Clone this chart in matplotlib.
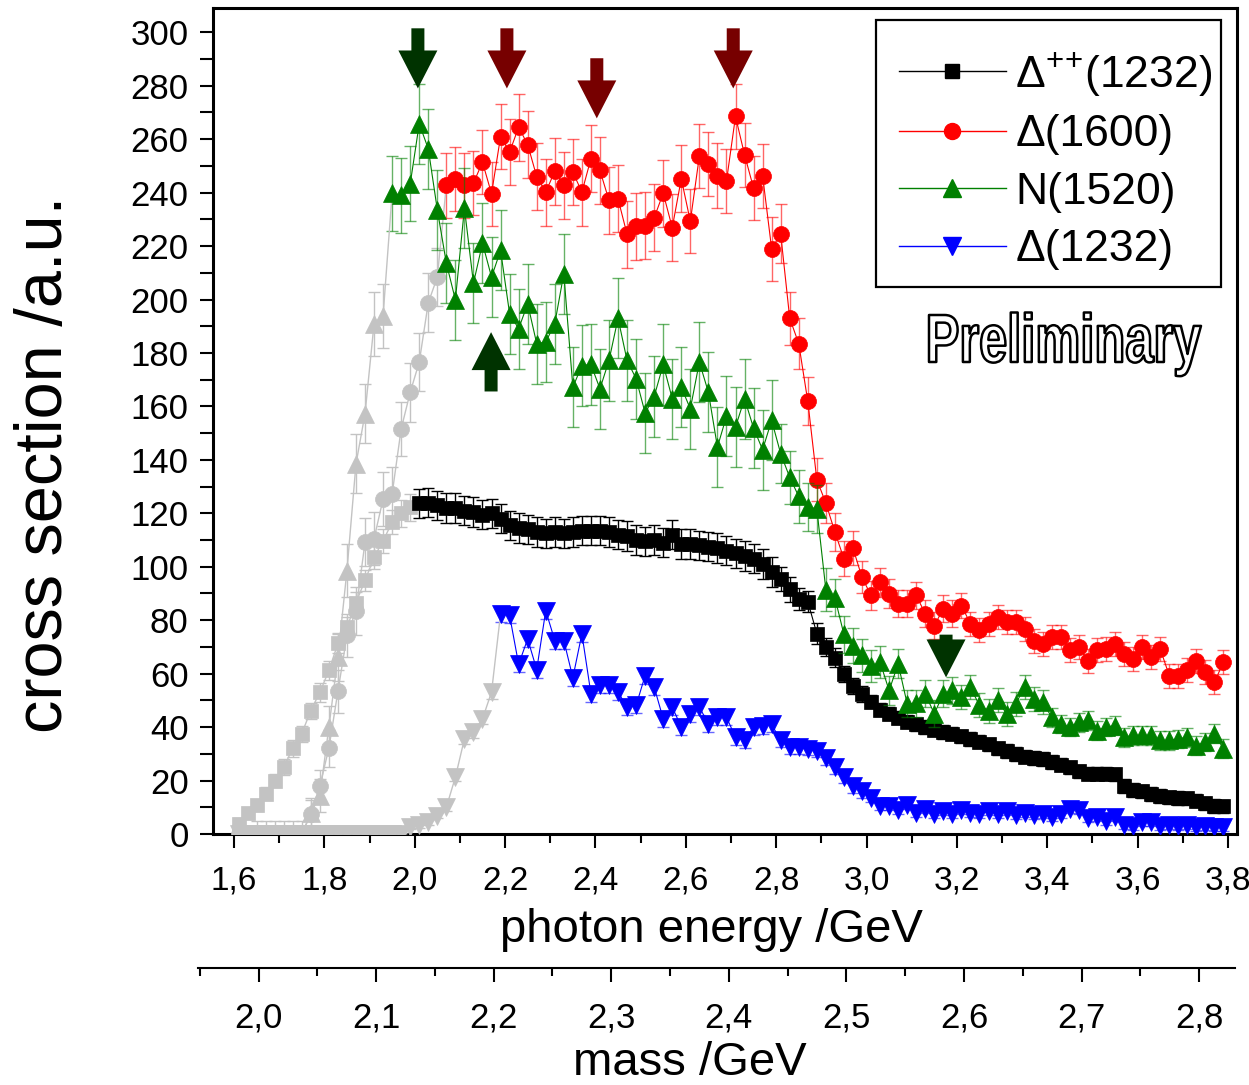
import numpy as np
import matplotlib
matplotlib.use('Agg')
import matplotlib.pyplot as plt
from matplotlib import font_manager
from matplotlib.patches import FancyArrow, PathPatch, Rectangle
from matplotlib.lines import Line2D
from matplotlib.ticker import MultipleLocator, FuncFormatter
from matplotlib.textpath import TextPath
from matplotlib.font_manager import FontProperties
from matplotlib.transforms import Affine2D

# ---------------- data ----------------
photon_energy = [
    1.61, 1.63, 1.65, 1.67, 1.69, 1.71, 1.73, 1.75, 1.77, 1.79,
    1.81, 1.83, 1.85, 1.87, 1.89, 1.91, 1.93, 1.95, 1.97, 1.99,
    2.01, 2.03, 2.05, 2.07, 2.09, 2.11, 2.13, 2.15, 2.17, 2.19,
    2.21, 2.23, 2.25, 2.27, 2.29, 2.31, 2.33, 2.35, 2.37, 2.39,
    2.41, 2.43, 2.45, 2.47, 2.49, 2.51, 2.53, 2.55, 2.57, 2.59,
    2.61, 2.63, 2.65, 2.67, 2.69, 2.71, 2.73, 2.75, 2.77, 2.79,
    2.81, 2.83, 2.85, 2.87, 2.89, 2.91, 2.93, 2.95, 2.97, 2.99,
    3.01, 3.03, 3.05, 3.07, 3.09, 3.11, 3.13, 3.15, 3.17, 3.19,
    3.21, 3.23, 3.25, 3.27, 3.29, 3.31, 3.33, 3.35, 3.37, 3.39,
    3.41, 3.43, 3.45, 3.47, 3.49, 3.51, 3.53, 3.55, 3.57, 3.59,
    3.61, 3.63, 3.65, 3.67, 3.69, 3.71, 3.73, 3.75, 3.77, 3.79]

delta_pp_1232 = [
    3.9, 7.7, 10.7, 15.1, 20, 25, 32, 37.6, 46.2, 53,
    61.2, 71.3, 77.3, 86.6, 94.9, 103.5, 109.8, 116.6, 120, 122.2,
    123.7, 124, 123, 122, 122, 121, 120.5, 119.5, 120, 118,
    115.5, 114.5, 114, 113, 112.5, 113, 112.5, 113, 113.5, 113.5,
    113.5, 113, 112, 111.5, 110, 109.5, 110, 109, 112, 108.5,
    108.5, 108, 107.5, 107, 106, 105, 104, 103, 101, 98,
    95.5, 91.5, 88, 87, 75, 70, 66, 60, 55.5, 52.5,
    49.5, 46.5, 45, 43.5, 42, 41, 40, 39, 38.2, 37.5,
    36.5, 35.5, 34.5, 33.5, 32, 31, 30, 29, 28.5, 28,
    27, 26, 25, 23.5, 22.6, 22.6, 22.6, 22.3, 18, 16.5,
    16, 15, 14.2, 13.7, 13.5, 13.3, 12.5, 11.5, 10.5, 10.3]
delta_pp_1232_err = [
    2, 2, 2, 2.5, 2.5, 3, 3, 3, 3, 3.5,
    3.5, 3.5, 4, 4, 4, 4.5, 4.5, 4.5, 5, 5,
    5.5, 5.5, 5.5, 5.5, 5.5, 5.5, 5.5, 5.5, 5.5, 5.5,
    5.5, 5.5, 5.5, 5.5, 5.5, 5.5, 5.5, 5.5, 5.5, 5.5,
    5.5, 5.5, 5.5, 5.5, 5.5, 5.5, 5.5, 5.5, 5.5, 5.5,
    5.5, 5.5, 5.5, 5.5, 5.5, 5.5, 5.5, 5.5, 5.5, 5.5,
    4.5, 4.5, 4, 4, 4, 3.5, 3.5, 3, 3, 3,
    2.5, 2.5, 2.5, 2.5, 2.5, 2.5, 2.5, 2.5, 2.5, 2.5,
    2.5, 2.5, 2.5, 2.5, 2.5, 2.5, 2.5, 2.5, 2.5, 2.5,
    2.5, 2.5, 2.5, 2.5, 2.5, 2.5, 2.5, 2.5, 2.5, 2.5,
    2.5, 2.5, 2.5, 2.5, 2.5, 2.5, 2.5, 2.5, 2.5, 2.5]

delta_1600 = [
    0, 0, 0, 0, 0, 0, 0, 0, 7.5, 18,
    32.1, 53.4, 74.3, 83.6, 109.2, 110.5, 125.4, 127.3, 151.6, 165.3,
    176.6, 198.8, 208.4, 242.7, 245.2, 242.7, 243.6, 251.4, 239.6, 261,
    255.2, 264.5, 258, 246, 240.2, 248, 242.7, 247.7, 240.2, 252.7,
    248.3, 237.1, 237.7, 224.4, 227.4, 227.7, 230.6, 239.8, 226.9, 245.2,
    229.3, 253.7, 250.8, 246.4, 244.3, 268.5, 254.2, 241.7, 246.3, 219,
    224.6, 193, 183.5, 161.9, 132.6, 123.8, 113, 103, 107, 96,
    89.3, 94.2, 89.9, 86.2, 86.2, 89.3, 82.4, 78, 84.3, 82.4,
    85.5, 78.7, 76.2, 78.7, 81.1, 79.3, 79.3, 76.8, 72.4, 71.2,
    73.7, 73.7, 68.7, 69.9, 64.9, 68.7, 69.3, 71.2, 67.4, 65.6,
    69.9, 66.2, 69.3, 59.3, 59.3, 61.2, 64.9, 60.6, 56.8, 64.3]
delta_1600_err = [
    0, 0, 5, 5, 5, 5, 5, 5, 6, 6,
    7, 8, 8, 9, 9, 10, 10, 10, 10, 11,
    11, 11, 11, 12, 12, 12, 12, 12, 12, 12,
    12.5, 12.5, 12.5, 12.5, 12.5, 12.5, 12.5, 12.5, 12.5, 12.5,
    12.5, 12.5, 12.5, 12.5, 12.5, 12.5, 12.5, 12.5, 12.5, 12.5,
    12, 12, 12, 12, 12, 12, 12, 12, 12, 12,
    11, 10, 9.5, 9, 8, 7.5, 7, 6.5, 6.5, 6,
    5.5, 5.5, 5.5, 5, 5, 5, 5, 5, 5, 5,
    4.5, 4.5, 4.5, 4.5, 4.5, 4.5, 4.5, 4.5, 4.5, 4.5,
    4.5, 4.5, 4.5, 4.5, 4.5, 4.5, 4.5, 4.5, 4.5, 4.5,
    4.5, 4.5, 4.5, 4.5, 4.5, 4.5, 4.5, 4.5, 4.5, 4.5]

n_1520 = [
    0, 0, 0, 0, 0, 0, 0, 0, 7.7, 14.4,
    40, 66.2, 98.6, 138.5, 157.3, 191, 194, 239.8, 239, 243.3,
    265.8, 256.4, 233.6, 213.6, 199.9, 234.2, 206.1, 221.1, 208.4, 218.4,
    194.7, 189.1, 198.4, 183.5, 184.1, 191, 209.7, 167.2, 175.3, 175.7,
    166.6, 177.2, 193, 177.2, 170.4, 157.5, 163.7, 175.7, 162.9, 167.2,
    159.1, 176.6, 165.3, 144.8, 156.3, 152.3, 162.9, 151.9, 143.8, 154.8,
    142.3, 133.5, 126.3, 122.3, 121.7, 91.4, 88.4, 74.7, 70.5, 66.8,
    62.7, 64.3, 53.7, 63.7, 48.7, 48.9, 52.5, 45, 52.5, 53.7,
    51.2, 54.9, 48.1, 46.2, 50, 45, 48.7, 54.9, 50.6, 49.3,
    43.7, 41.2, 40, 41.8, 42.5, 38.7, 40, 40.6, 36.2, 36.9,
    36.9, 36.9, 35, 35, 35.6, 36.2, 33.1, 34.4, 37.5, 31.9]
n_1520_err = [
    0, 0, 0, 0, 0, 0, 0, 0, 5, 6,
    8, 9, 10, 11, 11, 12, 12, 14, 14, 14,
    15, 15, 15, 15, 15, 15, 15, 15, 15, 15,
    15, 15, 15, 15, 15, 15, 15, 15, 15, 15,
    15, 15, 15, 15, 15, 15, 15, 15, 15, 15,
    15, 15, 15, 15, 15, 15, 15, 15, 15, 15,
    11, 10, 10, 9, 9, 8, 7, 7, 6.5, 6,
    6, 6, 5.5, 5.5, 5, 5, 5, 5, 5, 5,
    4.5, 4.5, 4.5, 4.5, 4.5, 4.5, 4.5, 4.5, 4.5, 4.5,
    3.5, 3.5, 3.5, 3.5, 3.5, 3.5, 3.5, 3.5, 3.5, 3.5,
    3.5, 3.5, 3.5, 3.5, 3.5, 3.5, 3.5, 3.5, 3.5, 3.5]

delta_1232 = [
    0, 0, 0, 0, 0, 0, 0, 0, 0, 0,
    0, 0, 0, 0, 0, 0, 0, 0, 0, 2.5,
    3.2, 4.4, 6.9, 10, 21.3, 35.6, 38.1, 43.1, 53.1, 82.4,
    81.8, 63.5, 73, 61.5, 83.6, 72.4, 72.4, 58.5, 74.9, 52.5,
    55.6, 55.8, 53.1, 47.5, 48.1, 59.3, 55, 43.1, 47.5, 40,
    45, 47.5, 41.2, 43.7, 43.7, 36.2, 35, 40, 40.5, 41,
    35, 32.5, 32.5, 31.9, 31.2, 28.5, 25, 21.5, 18, 16,
    13.5, 10.5, 10.5, 9, 11, 8, 9.5, 7.5, 8.5, 7.5,
    9, 8, 7.5, 8.5, 7.5, 8.5, 7, 8, 7, 7.5,
    6.5, 7.5, 9.5, 9, 6, 6.5, 5, 6.5, 3.5, 3,
    4.5, 4.5, 3, 3.5, 3, 3.5, 2.5, 3, 2.5, 2.5]
delta_1232_err = [
    0.5, 0.5, 0.5, 0.5, 0.5, 0.5, 0.5, 0.5, 0.5, 0.5,
    0.5, 0.5, 0.5, 0.5, 0.5, 0.5, 0.5, 0.5, 0.5, 0.5,
    1, 1, 1, 1.5, 1.5, 2, 2, 2, 2.5, 3,
    3, 3, 3, 3, 3, 3, 3, 3, 3, 3,
    3, 3, 3, 3, 3, 3, 3, 3, 3, 3,
    3, 3, 3, 3, 3, 3, 3, 3, 3, 3,
    2.5, 2.5, 2.5, 2.5, 2.5, 2.5, 2.5, 2.5, 2.5, 2.5,
    1.5, 1.5, 1.5, 1.5, 1.5, 1.5, 1.5, 1.5, 1.5, 1.5,
    1.5, 1.5, 1.5, 1.5, 1.5, 1.5, 1.5, 1.5, 1.5, 1.5,
    1.5, 1.5, 1.5, 1.5, 1.5, 1.5, 1.5, 1.5, 1.5, 1.5,
    1.5, 1.5, 1.5, 1.5, 1.5, 1.5, 1.5, 1.5, 1.5, 1.5]

series_labels = [r'Δ$^{+}$$^{+}$(1232)', 'Δ(1600)', 'N(1520)', 'Δ(1232)']
series_values = [delta_pp_1232, delta_1600, n_1520, delta_1232]
series_errors = [delta_pp_1232_err, delta_1600_err, n_1520_err, delta_1232_err]
first_colored_energy = [2.01, 2.07, 1.95, 2.19]   # below: drawn in grey
series_colors = ['#000000', '#ff0000', '#008000', '#0000ff']
series_markers = ['s', 'o', '^', 'v']
series_msize = [10, 11.5, 13, 13]
grey = '#c3c3c3'

# arrows: (energy, tail value, tip value, colour)
arrow_marks = [
    (2.007, 301.5, 279.0, '#003300'),
    (2.204, 301.5, 279.0, '#770000'),
    (2.403, 290.3, 267.8, '#770000'),
    (2.705, 301.5, 279.0, '#770000'),
    (2.169, 165.6, 187.8, '#003300'),
    (3.176, 74.6, 58.6, '#003300'),
]

x_label = 'photon energy /GeV'
y_label = 'cross section /a.u.'
mass_label = 'mass /GeV'
stamp_text = 'Preliminary'

# ---------------- fonts ----------------
names = {f.name for f in font_manager.fontManager.ttflist}
base = 'Liberation Sans' if 'Liberation Sans' in names else 'DejaVu Sans'
plt.rcParams['font.family'] = [base, 'DejaVu Sans']
plt.rcParams['mathtext.fontset'] = 'custom'
plt.rcParams['mathtext.rm'] = base
plt.rcParams['mathtext.default'] = 'regular'

W, H = 1249, 1085
fig = plt.figure(figsize=(W / 100, H / 100), dpi=100)
ax = fig.add_axes([213 / W, (H - 834) / H, (1237 - 213) / W, (834 - 8) / H])
ax.set_xlim(1.5535, 3.820)
ax.set_ylim(0, 309.1)

E = np.array(photon_energy)
for i, (vals, errs, e0, col, mk, ms) in enumerate(zip(series_values, series_errors,
        first_colored_energy, series_colors, series_markers, series_msize)):
    v = np.array(vals)
    er = np.array(errs)
    i0 = int(np.argmin(np.abs(E - e0)))
    z = 2 + i * 0.5
    # grey part (below threshold)
    ax.errorbar(E[:i0], v[:i0], yerr=er[:i0], fmt='none', ecolor=grey,
                elinewidth=1, capsize=4.5, capthick=1, zorder=z)
    ax.plot(E[:i0 + 1], v[:i0 + 1], '-', color=grey, lw=1, zorder=z + 0.1)
    ax.plot(E[:i0], v[:i0], linestyle='none', marker=mk, ms=ms, color=grey,
            mec=grey, mew=0.5, zorder=z + 0.2)
    # coloured part
    rgba = matplotlib.colors.to_rgba(col, 0.6 if col != '#000000' else 1.0)
    ax.errorbar(E[i0:], v[i0:], yerr=er[i0:], fmt='none', ecolor=rgba,
                elinewidth=1, capsize=4.5, capthick=1, zorder=z)
    ax.plot(E[i0:], v[i0:], '-', color=col, lw=0.8, zorder=z + 0.1)
    ax.plot(E[i0:], v[i0:], linestyle='none', marker=mk, ms=ms, color=col,
            mec=col, mew=0.5, zorder=z + 0.2)

# arrows
for x, y0, y1, c in arrow_marks:
    L = y1 - y0
    hl = min(14.2, abs(L) * 0.95)
    ax.add_patch(FancyArrow(x, y0, 0, L, width=0.0288, head_width=0.0863,
                            head_length=hl, length_includes_head=True,
                            color=c, lw=0, zorder=10))

# axes styling
for s in ax.spines.values():
    s.set_linewidth(2.2)
ax.xaxis.set_major_locator(MultipleLocator(0.2))
ax.xaxis.set_minor_locator(MultipleLocator(0.1))
ax.yaxis.set_major_locator(MultipleLocator(20))
ax.yaxis.set_minor_locator(MultipleLocator(10))
comma = FuncFormatter(lambda v, p: f'{v:.1f}'.replace('.', ','))
ax.xaxis.set_major_formatter(comma)
ax.yaxis.set_major_formatter(FuncFormatter(lambda v, p: f'{v:.0f}'))
ax.tick_params(axis='x', which='major', direction='out', length=10, width=1.5,
               labelsize=24, pad=13)
ax.tick_params(axis='x', which='minor', direction='out', length=6.5, width=1.5)
ax.tick_params(axis='y', which='both', direction='out', length=9.5, width=1.5,
               labelsize=25, pad=8)
ax.tick_params(top=False, right=False, which='both')

fig.text(45 / W, 1 - 464 / H, y_label, rotation=90, fontsize=48,
         ha='center', va='center')
fig.text(711 / W, 1 - 930 / H, x_label, fontsize=34, ha='center', va='center')

# legend (entries without frame, frame drawn as rectangle)
handles = [Line2D([], [], color=c, lw=1, marker=m, ms=ms, mfc=c, mec=c)
           for c, m, ms in zip(series_colors, series_markers, series_msize)]
leg = ax.legend(handles, series_labels, loc='upper left',
                bbox_to_anchor=(899 / W, 1 - 50 / H), bbox_transform=fig.transFigure,
                fontsize=32, frameon=False, borderpad=0, handlelength=2.4,
                handletextpad=0.22, labelspacing=0.37, borderaxespad=0)
leg.set_zorder(20)
fig.add_artist(Rectangle((876 / W, 1 - 287 / H), (1221 - 876) / W, (287 - 20) / H,
                         transform=fig.transFigure, facecolor='none',
                         edgecolor='black', lw=1.6, zorder=19))

# "Preliminary" stamp, outlined bold text stretched to the reference's box
fp = FontProperties(family=base, weight='bold')
tp = TextPath((0, 0), stamp_text, size=100, prop=fp)
bb = tp.get_extents()
cap = TextPath((0, 0), 'P', size=100, prop=fp).get_extents()
sx = 272 / bb.width
sy = 47 / (cap.y1 - cap.y0)
tr = Affine2D().translate(-bb.x0, 0).scale(sx, sy).translate(929, H - 362)
fig.add_artist(PathPatch(tp, transform=tr, facecolor='white', edgecolor='black',
                         lw=1.8, joinstyle='round', zorder=21))

# secondary mass axis
ax2 = fig.add_axes([198 / W, (H - 968) / H, (1235 - 198) / W, 1e-5])
ax2.set_xlim(1.9485, 2.8305)
for k in ['left', 'right', 'top']:
    ax2.spines[k].set_visible(False)
ax2.spines['bottom'].set_linewidth(1.5)
ax2.patch.set_visible(False)
ax2.set_yticks([])
ax2.xaxis.set_major_locator(MultipleLocator(0.1))
ax2.xaxis.set_minor_locator(MultipleLocator(0.05))
ax2.xaxis.set_major_formatter(comma)
ax2.tick_params(axis='x', which='major', direction='out', length=10, width=1.5,
                labelsize=25, pad=14)
ax2.tick_params(axis='x', which='minor', direction='out', length=6, width=1.5)
fig.text(690 / W, 1 - 1063 / H, mass_label, fontsize=34, ha='center', va='center')

fig.savefig('out.png', dpi=100)
